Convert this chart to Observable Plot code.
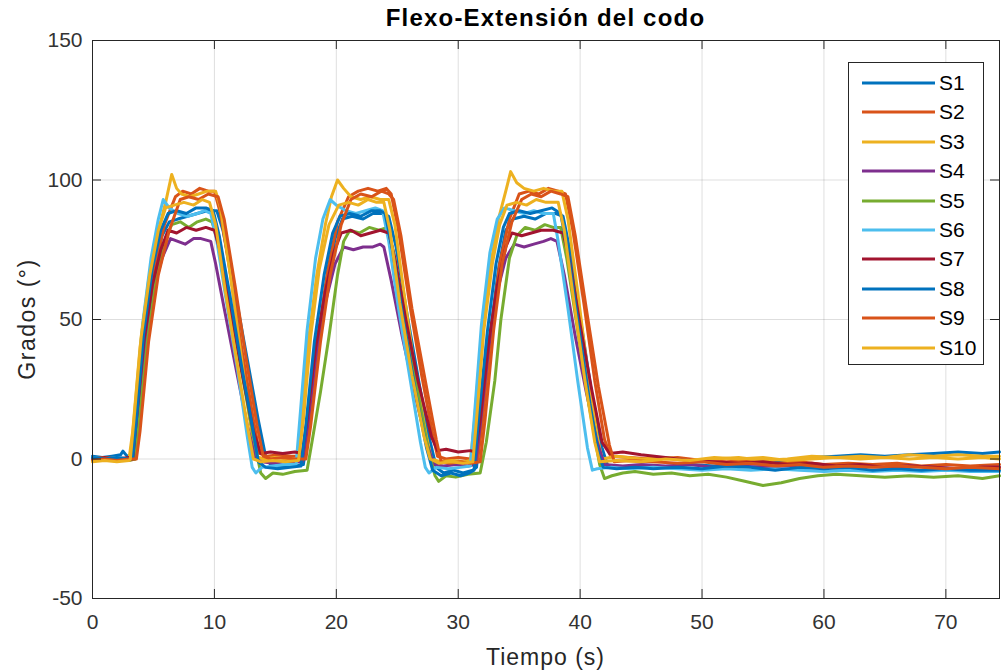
<!DOCTYPE html>
<html><head><meta charset="utf-8">
<script src="https://cdn.jsdelivr.net/npm/d3@7"></script>
<script src="https://cdn.jsdelivr.net/npm/@observablehq/plot@0.6"></script>
<style>
body{margin:0;background:#fff;}
#wrap{position:relative;width:1002px;height:672px;font-family:"Liberation Sans",Arial,Helvetica,sans-serif;color:#262626;}
#title{position:absolute;left:92px;width:907px;top:6px;text-align:center;font-weight:bold;font-size:24px;line-height:24px;letter-spacing:1.2px;color:#000;}
#xlab{position:absolute;left:92px;width:907px;top:646px;text-align:center;font-size:23px;line-height:23px;letter-spacing:1px;}
#ylab{position:absolute;left:27px;top:319px;transform:translate(-50%,-50%) rotate(-90deg);font-size:23px;line-height:23px;letter-spacing:1.5px;white-space:nowrap;}
#legend{position:absolute;left:848px;top:62px;width:136px;height:303px;border:1px solid #262626;background:#fff;box-sizing:border-box;}
.item{position:absolute;left:0;height:24px;display:flex;align-items:center;}
.item svg{margin-left:13px;}
.item span{margin-left:4px;font-size:21px;color:#000;}
</style></head>
<body><div id="wrap"><div id="chart"></div>
<div id="title">Flexo-Extensión del codo</div>
<div id="xlab">Tiempo (s)</div>
<div id="ylab">Grados (°)</div>
<div id="legend"></div>
</div>
<script>
const seriesNames = ["S1","S2","S3","S4","S5","S6","S7","S8","S9","S10"];
const seriesColors = ["#0072BD","#D95319","#EDB120","#7E2F8E","#77AC30","#4DBEEE","#A2142F","#0072BD","#D95319","#EDB120"];
const xTicks = [0,10,20,30,40,50,60,70];
const yTicks = [-50,0,50,100,150];
const xDomain = [0,74.4];
const yDomain = [-50,150];

const S1 = [[0,1],[0.8,0.5],[1.6,1],[2.3,1.5],[2.5,2.8],[2.8,1.2],[3.4,1],[3.7,12],[4.3,42],[5,66],[5.7,80],[6.3,85],[7,86],[7.8,87],[8.6,88],[9.4,89],[10.2,89],[10.7,82],[11.6,62],[12.6,38],[13.6,14],[14.2,1],[14.6,-2],[15.5,-3],[16.4,-2.5],[17.3,-2],[17.7,10],[18.4,38],[19.2,62],[19.9,79],[20.5,86],[21.3,87],[22.2,86],[23,88],[23.8,88],[24.3,87],[24.9,76],[25.8,52],[26.8,27],[27.6,8],[28.2,-3],[28.8,-5],[29.6,-4],[30.4,-5],[31.2,-4],[31.5,-3],[31.9,14],[32.6,44],[33.3,68],[33.9,82],[34.5,86],[35.4,87],[36.3,86],[37.2,88],[38,88],[38.6,87],[39.2,74],[40.1,48],[41,22],[41.8,4],[42.3,-3],[43.5,-3],[45,-2.5],[47,-3],[49,-2],[51,-2.5],[53,-1.5],[55,-2],[57,-0.5],[59,0.5],[61,1],[63,1.5],[65,1],[67,1.5],[69,2],[71,2.5],[73,2],[74.4,2.5]];
const S2 = [[0,0],[1,-0.5],[2,0],[3,-0.5],[3.5,0],[3.8,12],[4.4,44],[5.1,68],[5.9,84],[6.8,94],[7.4,96],[8.1,95],[8.8,97],[9.5,96],[10,96],[10.5,88],[11.4,64],[12.3,38],[13.2,14],[13.7,2],[14.3,1],[15.3,1.5],[16.3,1],[17.4,1],[17.8,14],[18.5,44],[19.3,68],[20.1,85],[21,94],[21.8,96],[22.6,97],[23.4,96],[24.1,97],[24.5,95],[25.1,82],[26,56],[27,30],[27.9,9],[28.3,1],[29,0],[30,0.5],[31,0],[31.6,0],[32,14],[32.7,46],[33.4,70],[34.2,86],[35,95],[35.8,96],[36.6,95],[37.4,97],[38.2,96],[38.8,95],[39.4,82],[40.3,56],[41.2,28],[42,7],[42.5,1],[44,0.5],[46,0],[48,0.5],[50,-0.5],[52,-1],[54,-0.5],[56,-1.5],[58,-1],[60,-2],[62,-1.5],[64,-2],[66,-1.5],[68,-2.5],[70,-2],[72,-2.5],[74.4,-2]];
const S3 = [[0,0],[1,0.5],[2,0],[3,0],[3.3,10],[3.9,40],[4.6,64],[5.3,80],[6,92],[6.5,102],[6.9,97],[7.3,95],[8,94],[8.7,95],[9.4,96],[10.1,96],[10.5,90],[11.3,66],[12.1,40],[12.9,14],[13.4,1],[14,0],[15,0.5],[16,0],[16.8,0],[17.1,12],[17.7,42],[18.4,66],[19.1,84],[19.6,94],[20.1,100],[20.6,97],[21.2,94],[22,93],[22.8,94],[23.6,93],[24.3,93],[24.8,84],[25.6,58],[26.5,30],[27.4,8],[27.8,0],[28.5,-1],[29.5,-0.5],[30.5,-1],[31,-0.5],[31.3,12],[31.9,44],[32.6,68],[33.3,86],[33.9,96],[34.3,103],[34.8,99],[35.4,97],[36.2,96],[37,97],[37.8,96],[38.5,96],[39,86],[39.8,60],[40.6,32],[41.4,8],[41.8,0],[43,1],[45,0],[47,0.5],[49,-0.5],[51,0],[53,0.5],[55,-0.5],[57,0],[59,1],[61,0.5],[63,1],[65,0.5],[67,1.5],[69,1],[71,1.5],[73,1],[74.4,1]];
const S4 = [[0,-0.5],[1,0],[2,-0.5],[3,0],[3.4,0],[3.7,12],[4.3,40],[5,60],[5.7,72],[6.4,79],[7,78],[7.6,77],[8.3,79],[8.9,79],[9.7,78],[10.1,70],[10.8,54],[11.7,34],[12.7,12],[13.4,0],[13.9,-1],[14.8,-1.5],[15.8,-1],[17.2,-1],[17.6,10],[18.3,36],[19.1,56],[19.9,70],[20.6,76],[21.4,75],[22.2,76],[23,76],[23.6,77],[23.9,76],[24.5,64],[25.4,44],[26.4,24],[27.4,6],[28,-2],[28.8,-2.5],[29.8,-2],[30.8,-2.5],[31.4,-2],[31.8,12],[32.5,40],[33.2,60],[33.9,72],[34.6,77],[35.4,76],[36.2,77],[37,78],[37.6,79],[38.1,78],[38.7,66],[39.6,44],[40.5,24],[41.4,6],[42,-2],[43.5,-2.5],[45,-2],[47,-2.5],[49,-2],[51,-3],[53,-2.5],[55,-3],[57,-2.5],[59,-2],[61,-3],[63,-2.5],[65,-3],[67,-2.5],[69,-3],[71,-3.5],[73,-3],[74.4,-3]];
const S5 = [[0,0],[1,-0.5],[2,0],[3,-0.5],[3.5,0],[3.8,12],[4.5,42],[5.2,64],[5.9,78],[6.5,84],[7.2,85],[7.9,83],[8.6,85],[9.3,86],[9.8,85],[10.3,78],[11.2,56],[12.2,32],[13.2,8],[13.8,-5],[14.2,-7],[14.8,-5],[15.6,-5.5],[16.6,-4.5],[17.6,-4],[18,6],[18.7,24],[19.4,44],[20.1,66],[20.6,78],[21.1,82],[21.9,81],[22.7,83],[23.5,82],[24.2,83],[24.7,74],[25.6,50],[26.6,26],[27.6,2],[28.1,-6],[28.4,-8],[29,-6],[29.8,-6.5],[30.8,-5.5],[31.8,-5],[32.3,6],[33,28],[33.5,50],[34.2,72],[34.8,80],[35.5,83],[36.3,82],[37.1,84],[37.8,83],[38.4,83],[38.9,72],[39.8,46],[40.7,20],[41.6,-2],[42,-7],[42.6,-6],[43.5,-5],[44.5,-4.5],[46,-5.5],[47.5,-5],[49,-6],[50.5,-5.5],[52,-6.5],[53.5,-8],[55,-9.5],[56.5,-8.5],[58,-7],[59.5,-6],[61,-5.5],[63,-6],[65,-6.5],[67,-6],[69,-6.5],[71,-6],[73,-7],[74.4,-6]];
const S6 = [[0,0.5],[1,0],[2,0.5],[3,0],[3.2,0.5],[3.5,16],[4.1,48],[4.8,72],[5.4,86],[5.8,93],[6.3,90],[7,88],[7.8,87],[8.6,88],[9.2,89],[9.7,88],[10.2,78],[11,56],[11.9,32],[12.7,8],[13.1,-3],[13.4,-5],[13.9,-3],[14.8,-2.5],[15.8,-2],[16.7,-2],[17,14],[17.6,46],[18.3,72],[18.9,86],[19.5,93],[20,91],[20.8,89],[21.6,88],[22.4,89],[23.2,90],[23.8,89],[24.3,78],[25.1,54],[26,30],[26.9,6],[27.3,-3],[27.6,-5],[28.2,-3],[29.2,-3.5],[30.2,-3],[31,-2.5],[31.3,14],[31.9,48],[32.6,74],[33.2,86],[33.8,90],[34.6,89],[35.4,88],[36.2,89],[37,88],[37.8,88],[38.2,78],[39,54],[39.8,28],[40.6,4],[41,-4],[41.4,-3.5],[42.5,-3],[44,-3.5],[46,-3],[48,-3.5],[50,-4],[52,-3.5],[54,-4],[56,-3.5],[58,-4],[60,-4.5],[62,-4],[64,-4.5],[66,-4],[68,-4.5],[70,-4],[72,-4.5],[74.4,-4.5]];
const S7 = [[0,0],[1,0.5],[2,0],[3,0.5],[3.3,0],[3.6,14],[4.2,42],[4.9,62],[5.6,75],[6.2,82],[6.9,81],[7.7,83],[8.5,82],[9.3,83],[10,82],[10.5,74],[11.4,52],[12.3,30],[13.2,10],[13.8,2],[14.6,2.5],[15.6,2],[16.6,2.5],[17.2,2],[17.6,14],[18.3,40],[19.1,60],[19.8,74],[20.4,81],[21.2,82],[22,80],[22.8,81],[23.6,82],[24.3,81],[24.8,72],[25.7,50],[26.7,28],[27.8,8],[28.3,3],[29,3.5],[30,2.5],[31,3],[31.4,2.5],[31.8,14],[32.5,42],[33.2,62],[33.9,76],[34.4,81],[35.2,80],[36,81],[36.8,82],[37.8,82],[38.6,81],[39.1,72],[40,48],[40.9,26],[41.8,6],[42.4,2],[43.5,2.5],[45,1.5],[47,0.5],[49,-0.5],[51,-1],[53,-1.5],[55,-1],[57,-2],[59,-1.5],[61,-2.5],[63,-2],[65,-3],[67,-2.5],[69,-3],[71,-3.5],[73,-3],[74.4,-3]];
const S8 = [[0,0.5],[1,0],[2,0.5],[3,0],[3.3,0.5],[3.6,14],[4.2,45],[4.9,68],[5.6,82],[6.2,88],[6.9,89],[7.7,88],[8.5,90],[9.3,90],[9.9,89],[10.4,80],[11.3,58],[12.2,34],[13.1,12],[13.6,-1],[14.2,-3],[15.2,-3.5],[16.2,-3],[17.1,-2.5],[17.5,12],[18.2,42],[19,66],[19.7,81],[20.3,87],[21.1,88],[22,87],[22.9,89],[23.6,89],[24,88],[24.6,75],[25.5,50],[26.5,24],[27.4,4],[27.9,-4],[28.6,-6],[29.4,-5],[30.2,-6],[30.9,-5],[31.3,-4],[31.7,16],[32.4,46],[33.1,70],[33.7,83],[34.2,88],[35,89],[35.9,88],[36.8,89],[37.7,90],[38.4,88],[39,74],[39.9,47],[40.8,20],[41.5,2],[41.9,-3],[43,-3.5],[44.5,-3],[46,-3.5],[48,-3],[50,-3.5],[52,-2.5],[54,-3],[56,-4],[58,-3],[60,-3.5],[62,-3],[64,-4],[66,-3.5],[68,-4],[70,-3.5],[72,-4],[74.4,-4]];
const S9 = [[0,-0.5],[1,0],[2,-0.5],[3,0],[3.6,0],[3.9,10],[4.6,42],[5.4,66],[6.3,82],[7.2,93],[7.9,94],[8.7,93],[9.5,95],[10.3,94],[10.8,86],[11.7,62],[12.6,36],[13.5,12],[14,1],[14.6,0],[15.6,0.5],[16.6,0],[17.5,0],[17.9,12],[18.7,42],[19.5,66],[20.4,84],[21.2,93],[22,95],[22.9,94],[23.7,96],[24.3,95],[24.7,93],[25.3,80],[26.2,54],[27.3,28],[28.2,7],[28.6,-1],[29.3,-1.5],[30.2,-1],[31,-1.5],[31.8,-1],[32.2,14],[32.9,46],[33.6,70],[34.4,85],[35.2,93],[36,95],[36.8,94],[37.6,96],[38.4,95],[39,94],[39.6,80],[40.5,54],[41.5,26],[42.4,5],[42.8,-1],[44,-0.5],[46,-1],[48,-1.5],[50,-1],[52,-2],[54,-1.5],[56,-2.5],[58,-2],[60,-3],[62,-2.5],[64,-3],[66,-2.5],[68,-3],[70,-3.5],[72,-3],[74.4,-3.5]];
const S10 = [[0,-1],[1,-0.5],[2,-1],[3,-0.5],[3.1,0],[3.4,14],[4,44],[4.7,66],[5.4,82],[6,90],[6.7,91],[7.5,92],[8.3,91],[9,93],[9.6,92],[10.1,84],[10.9,60],[11.8,36],[12.7,12],[13.2,0],[13.8,-1],[14.8,-0.5],[15.8,-1],[16.9,-0.5],[17.3,14],[17.9,44],[18.6,68],[19.4,84],[20.2,91],[21,92],[21.8,91],[22.6,93],[23.3,92],[23.9,92],[24.4,82],[25.2,56],[26.2,30],[27.2,8],[27.7,0],[28.4,-1.5],[29.4,-1],[30.4,-1.5],[31.2,-1],[31.5,14],[32.1,46],[32.8,70],[33.4,84],[34,91],[34.8,92],[35.6,91],[36.4,93],[37.2,92],[38.2,92],[38.7,82],[39.5,56],[40.4,28],[41.2,6],[41.6,-1],[43,-0.5],[45,-1],[47,0],[49,-0.5],[51,0.5],[53,0],[55,0.5],[57,-0.5],[59,0],[61,0.5],[63,0],[65,0.5],[67,0],[69,0.5],[71,0],[73,0.5],[74.4,0]];

const seriesData = [S1,S2,S3,S4,S5,S6,S7,S8,S9,S10];

const W = 1002, H = 672;
const mL = 92, mR = 3, mT = 40, mB = 74;
const tickPx = 9;
const tickY = tickPx * (yDomain[1]-yDomain[0]) / (H - mT - mB);
const tickX = tickPx * (xDomain[1]-xDomain[0]) / (W - mL - mR);

const lineMarks = seriesData.map((arr, i) =>
  Plot.line(arr, {x: d => d[0], y: d => d[1], stroke: seriesColors[i], strokeWidth: 3, strokeLinejoin: "round", strokeLinecap: "round"})
);

const chart = Plot.plot({
  width: W, height: H,
  marginLeft: mL, marginRight: mR, marginTop: mT, marginBottom: mB,
  style: {fontFamily: '"Liberation Sans", Arial, Helvetica, sans-serif', fontSize: "21px", background: "#fff", color: "#262626"},
  x: {domain: xDomain, label: null},
  y: {domain: yDomain, label: null},
  marks: [
    Plot.gridX(xTicks, {stroke: "#000", strokeOpacity: 0.13, strokeWidth: 1}),
    Plot.gridY(yTicks, {stroke: "#000", strokeOpacity: 0.13, strokeWidth: 1}),
    ...lineMarks,
    Plot.ruleX(xTicks, {x: d => d, y1: yDomain[0], y2: yDomain[0] + tickY, stroke: "#262626"}),
    Plot.ruleX(xTicks, {x: d => d, y1: yDomain[1], y2: yDomain[1] - tickY, stroke: "#262626"}),
    Plot.ruleY(yTicks, {y: d => d, x1: xDomain[0], x2: xDomain[0] + tickX, stroke: "#262626"}),
    Plot.ruleY(yTicks, {y: d => d, x1: xDomain[1], x2: xDomain[1] - tickX, stroke: "#262626"}),
    Plot.frame({stroke: "#262626", strokeWidth: 1}),
    Plot.axisX(xTicks, {tickSize: 0, tickPadding: 16, fill: "#333", label: null, tickFormat: d => String(d)}),
    Plot.axisY(yTicks, {tickSize: 0, tickPadding: 10, fill: "#333", label: null, tickFormat: d => String(d)})
  ]
});
document.getElementById("chart").appendChild(chart);

const leg = document.getElementById("legend");
seriesNames.forEach((name, i) => {
  const it = document.createElement("div");
  it.className = "item";
  it.style.top = (8 + i * 29.4) + "px";
  it.innerHTML = `<svg width="73" height="6"><line x1="0" y1="3" x2="73" y2="3" stroke="${seriesColors[i]}" stroke-width="3"/></svg><span>${name}</span>`;
  leg.appendChild(it);
});
</script>
</body></html>
